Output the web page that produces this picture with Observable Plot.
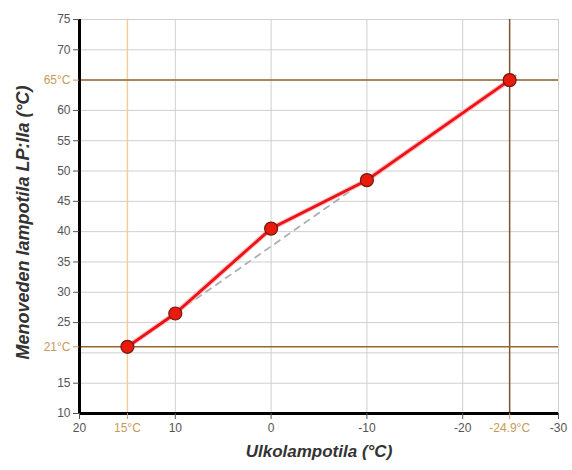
<!DOCTYPE html>
<html>
<head>
<meta charset="utf-8">
<script src="https://cdn.jsdelivr.net/npm/d3@7"></script>
<script src="https://cdn.jsdelivr.net/npm/@observablehq/plot@0.6"></script>
<style>
  body { margin: 0; background: #fff; }
  #chart svg { font-family: "Liberation Sans", Arial, sans-serif; }
</style>
</head>
<body>
<div id="chart"></div>
<script>
// Curve points (outdoor temp °C -> supply water temp °C)
const outdoorTemps = [15, 10, 0, -10, -24.9];
const supplyTemps = [21, 26.5, 40.5, 48.5, 65];

// Straight dashed reference line
const dashOutdoor = [15, -26];
const dashSupply = [21, 66.3];

// Reference (design) lines
const designOutdoor = [15, -24.9];
const designSupply = [21, 65];

// Tick values
const xTicks = [20, 10, 0, -10, -20, -30];
const yTicks = [10, 15, 25, 30, 35, 40, 45, 50, 55, 60, 70, 75];
const xGrid = [10, 0, -10, -20, -30];
const yGrid = [15, 20, 25, 30, 35, 40, 45, 50, 55, 60, 65, 70, 75];

const xLabel = "Ulkolampotila (°C)";
const yLabel = "Menoveden lampotila LP:lla (°C)";

const pts = outdoorTemps.map((x, i) => ({x, y: supplyTemps[i]}));
const dash = dashOutdoor.map((x, i) => ({x, y: dashSupply[i]}));
const fmt = d => String(d).replace("\u2212", "-");

const chart = Plot.plot({
  width: 572,
  height: 470,
  marginLeft: 79,
  marginRight: 14,
  marginTop: 19,
  marginBottom: 57,
  style: {fontFamily: "Liberation Sans, Arial, sans-serif", fontSize: "12px", background: "#fff"},
  x: {domain: [20, -30]},
  y: {domain: [10, 75]},
  marks: [
    Plot.gridY(yGrid, {stroke: "#cfcfcf", strokeOpacity: 1}),
    Plot.gridX(xGrid, {stroke: "#cfcfcf", strokeOpacity: 1}),
    Plot.ruleX([designOutdoor[0]], {stroke: "#f2cf9a", strokeWidth: 1.5}),
    Plot.ruleX([designOutdoor[1]], {stroke: "#7e5428", strokeWidth: 1.5}),
    Plot.ruleY(designSupply, {stroke: "#94672f", strokeWidth: 1.5}),
    Plot.line(dash, {x: "x", y: "y", stroke: "#a8b0b4", strokeWidth: 1.8, strokeDasharray: "6,6"}),
    Plot.line(pts, {x: "x", y: "y", stroke: "#f7b8c0", strokeWidth: 5}),
    Plot.line(pts, {x: "x", y: "y", stroke: "#ee1111", strokeWidth: 2.8}),
    Plot.dot(pts, {x: "x", y: "y", r: 6.5, fill: "#ea1a0c", stroke: "#6e1a10", strokeWidth: 1.2}),
    Plot.ruleX([20], {stroke: "#000", strokeWidth: 3}),
    Plot.ruleY([10], {stroke: "#000", strokeWidth: 3}),
    Plot.axisX({ticks: xTicks, tickSize: 6, tickPadding: 4, label: null, color: "#555", fontSize: 12, tickFormat: fmt}),
    Plot.axisX({ticks: designOutdoor, tickSize: 6, tickPadding: 4, label: null, color: "#c89a5a", fontSize: 12, tickFormat: d => fmt(d) + "°C"}),
    Plot.axisY({ticks: yTicks, tickSize: 6, tickPadding: 3, label: null, color: "#555", fontSize: 12}),
    Plot.axisY({ticks: designSupply, tickSize: 6, tickPadding: 3, label: null, color: "#c89a5a", fontSize: 12, tickFormat: d => d + "°C"}),
    Plot.text([xLabel], {frameAnchor: "bottom", dy: 43, text: d => d, fontSize: 17, fontWeight: "bold", fontStyle: "italic", fill: "#333"}),
    Plot.text([yLabel], {frameAnchor: "left", textAnchor: "middle", dx: -56, dy: 6, rotate: -90, text: d => d, fontSize: 18, fontWeight: "bold", fontStyle: "italic", fill: "#333"})
  ]
});
document.getElementById("chart").appendChild(chart);
</script>
</body>
</html>
